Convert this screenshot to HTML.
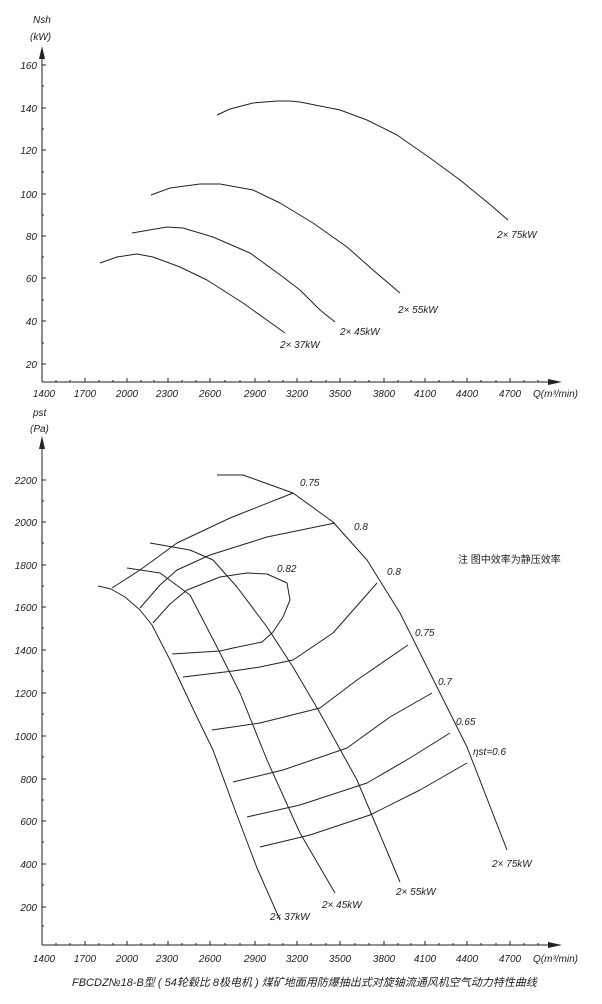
<!DOCTYPE html>
<html><head><meta charset="utf-8"><style>
body{margin:0;background:#fff}
svg{display:block}
text{font-family:"Liberation Sans","Noto Sans CJK SC",sans-serif;font-style:italic;font-size:10px;fill:#222}
.c{fill:none;stroke:#222;stroke-width:1;stroke-linejoin:round}
</style></head><body>
<svg width="602" height="1004" viewBox="0 0 602 1004" xmlns="http://www.w3.org/2000/svg">
<!-- top chart axes -->
<line x1="42" y1="382" x2="555" y2="382" stroke="#222"/>
<polygon points="562,382 548,379 548,385" fill="#222"/>
<line x1="42" y1="382" x2="42" y2="55" stroke="#222"/>
<polygon points="42,46 39,59 45,59" fill="#222"/>
<g stroke="#222">
<path d="M42 65h4M42 108h4M42 150h4M42 194h4M42 236h4M42 278h4M42 321h4M42 364h4"/>
<path d="M42 86h2M42 129h2M42 172h2M42 215h2M42 257h2M42 300h2M42 343h2"/>
<path d="M85 382v-4M127 382v-4M168 382v-4M210 382v-4M255 382v-4M297 382v-4M340 382v-4M384 382v-4M425 382v-4M467 382v-4M510 382v-4"/>
<path d="M56 382v-2M70 382v-2M99 382v-2M113 382v-2M141 382v-2M154 382v-2M182 382v-2M196 382v-2M225 382v-2M240 382v-2M269 382v-2M283 382v-2M311 382v-2M326 382v-2M355 382v-2M369 382v-2M398 382v-2M411 382v-2M439 382v-2M453 382v-2M481 382v-2M496 382v-2M524 382v-2M538 382v-2"/>
</g>
<text x="33" y="23">Nsh</text><text x="30" y="40">(kW)</text>
<g text-anchor="end">
<text x="37" y="69">160</text><text x="37" y="112">140</text><text x="37" y="154">120</text><text x="37" y="198">100</text><text x="37" y="240">80</text><text x="37" y="282">60</text><text x="37" y="325">40</text><text x="37" y="368">20</text>
</g>
<g text-anchor="middle">
<text x="44" y="397">1400</text><text x="85" y="397">1700</text><text x="127" y="397">2000</text><text x="167" y="397">2300</text><text x="210" y="397">2600</text><text x="255" y="397">2900</text><text x="297" y="397">3200</text><text x="340" y="397">3500</text><text x="384" y="397">3800</text><text x="425" y="397">4100</text><text x="467" y="397">4400</text><text x="510" y="397">4700</text>
</g>
<text x="533" y="397">Q(m³/min)</text>
<polyline class="c" points="100,263 117,257 137,254 153,257 180,267 207,280 243,303 285,333"/>
<polyline class="c" points="132,233 167,227 183,228 213,237 250,253 283,277 300,290 320,310 335,322"/>
<polyline class="c" points="151,195 170,188 200,184 220,184 253,190 280,203 313,223 347,247 373,270 400,293"/>
<polyline class="c" points="217,115 230,109 253,103 277,101 290,101 300,102 340,110 367,120 397,135 430,158 460,180 487,202 508,220"/>
<text x="280" y="348">2× 37kW</text><text x="340" y="335">2× 45kW</text><text x="398" y="313">2× 55kW</text><text x="497" y="238">2× 75kW</text>

<!-- bottom chart axes -->
<line x1="42" y1="945" x2="555" y2="945" stroke="#222"/>
<polygon points="562,945 548,942 548,948" fill="#222"/>
<line x1="42" y1="945" x2="42" y2="445" stroke="#222"/>
<polygon points="42,436 39,449 45,449" fill="#222"/>
<g stroke="#222">
<path d="M42 480h4M42 522h4M42 565h4M42 607h4M42 650h4M42 693h4M42 736h4M42 779h4M42 821h4M42 864h4M42 907h4"/>
<path d="M42 501h2M42 543h2M42 586h2M42 628h2M42 671h2M42 714h2M42 757h2M42 800h2M42 842h2M42 885h2M42 926h2"/>
<path d="M85 945v-4M127 945v-4M168 945v-4M210 945v-4M255 945v-4M297 945v-4M340 945v-4M384 945v-4M425 945v-4M467 945v-4M510 945v-4"/>
<path d="M56 945v-2M70 945v-2M99 945v-2M113 945v-2M141 945v-2M154 945v-2M182 945v-2M196 945v-2M225 945v-2M240 945v-2M269 945v-2M283 945v-2M311 945v-2M326 945v-2M355 945v-2M369 945v-2M398 945v-2M411 945v-2M439 945v-2M453 945v-2M481 945v-2M496 945v-2M524 945v-2M538 945v-2"/>
</g>
<text x="33" y="416">pst</text><text x="30" y="432">(Pa)</text>
<g text-anchor="end">
<text x="37" y="484">2200</text><text x="37" y="526">2000</text><text x="37" y="569">1800</text><text x="37" y="611">1600</text><text x="37" y="654">1400</text><text x="37" y="697">1200</text><text x="37" y="740">1000</text><text x="37" y="783">800</text><text x="37" y="825">600</text><text x="37" y="868">400</text><text x="37" y="911">200</text>
</g>
<g text-anchor="middle">
<text x="44" y="962">1400</text><text x="85" y="962">1700</text><text x="127" y="962">2000</text><text x="167" y="962">2300</text><text x="210" y="962">2600</text><text x="255" y="962">2900</text><text x="297" y="962">3200</text><text x="340" y="962">3500</text><text x="384" y="962">3800</text><text x="425" y="962">4100</text><text x="467" y="962">4400</text><text x="510" y="962">4700</text>
</g>
<text x="533" y="962">Q(m³/min)</text>

<polyline class="c" points="98,586 111,589 125,597 140,610 152,625 170,660 195,713 213,750 235,810 257,868 280,920"/>
<polyline class="c" points="127,568 160,573 190,595 217,647 240,693 267,760 300,833 335,893"/>
<polyline class="c" points="150,543 190,550 213,560 237,587 267,627 293,667 320,713 357,780 400,882"/>
<polyline class="c" points="217,475 243,475 293,493 333,522 367,560 400,613 427,667 467,747 507,850"/>

<polyline class="c" points="112,588 140,570 177,543 230,518 293,493"/>
<polyline class="c" points="140,608 160,585 177,570 210,555 267,537 335,523"/>
<polyline class="c" points="153,623 170,604 187,590 220,577 247,573 267,574 287,583 290,600 283,617 273,632 262,642 233,648 220,651 172,654"/>
<polyline class="c" points="183,677 233,671 260,667 293,660 333,633 377,583"/>
<polyline class="c" points="212,730 260,723 320,708 357,680 408,645"/>
<polyline class="c" points="233,782 283,770 347,748 390,717 432,693"/>
<polyline class="c" points="247,817 300,805 367,783 410,758 450,733"/>
<polyline class="c" points="260,847 310,835 370,815 420,790 467,763"/>

<text x="300" y="486">0.75</text><text x="354" y="530">0.8</text><text x="277" y="572">0.82</text><text x="387" y="575">0.8</text><text x="415" y="636">0.75</text><text x="438" y="685">0.7</text><text x="456" y="725">0.65</text><text x="473" y="755">ηst=0.6</text>
<text x="270" y="920">2× 37kW</text><text x="322" y="908">2× 45kW</text><text x="396" y="895">2× 55kW</text><text x="492" y="867">2× 75kW</text>
<text x="458" y="563" style="font-style:normal;font-size:10px">注  图中效率为静压效率</text>

<text x="72" y="986" style="font-size:11px">FBCDZ№18-B型 ( 54轮毂比 8极电机 ) 煤矿地面用防爆抽出式对旋轴流通风机空气动力特性曲线</text>
</svg>
</body></html>
